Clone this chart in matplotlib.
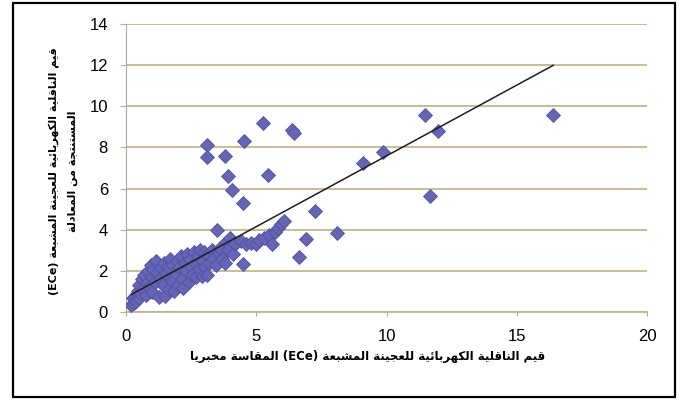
import re
import matplotlib
matplotlib.use('Agg')
import matplotlib.pyplot as plt
import numpy as np
from matplotlib.patches import Rectangle

ece_lab = [0.2, 0.25, 0.3, 0.35, 0.4, 0.45, 0.5, 0.5, 0.55, 0.6, 0.65, 0.7, 0.75, 0.8,
           0.85, 0.9, 0.95, 1.0, 1.0, 1.05, 1.1, 1.15, 1.2, 1.25, 1.3, 1.35, 1.4, 1.45,
           1.5, 1.55, 1.6, 1.65, 1.7, 1.75, 1.8, 1.85, 1.9, 1.95, 2.0, 2.05, 2.1, 2.15,
           2.2, 2.25, 2.3, 2.35, 2.4, 2.45, 2.5, 2.55, 2.6, 2.65, 2.7, 2.75, 2.8, 2.85,
           2.9, 2.95, 3.0, 3.05, 3.1, 3.15, 3.2, 3.3, 3.35, 3.45, 3.5, 3.55, 3.6, 3.7,
           3.8, 3.85, 3.9, 4.0, 4.1, 4.2, 4.4, 4.5, 4.6, 4.8, 5.0, 5.1, 5.3, 5.5, 5.6,
           5.7, 5.85, 5.95, 6.05,
           3.1, 3.1, 3.8, 3.93, 4.06, 4.48, 4.54, 5.25, 5.44, 6.36, 6.45, 6.65, 6.91,
           7.26, 8.1, 9.1, 9.88, 11.48, 11.65, 11.97, 16.4]
ece_eq = [0.35, 0.68, 0.45, 0.8, 0.55, 1.0, 0.7, 1.3, 0.9, 1.6, 1.1, 1.8, 0.85, 1.4,
          2.0, 1.2, 2.3, 1.7, 0.95, 2.1, 1.45, 2.5, 1.9, 0.75, 1.6, 2.2, 1.3, 2.4,
          0.8, 1.9, 2.2, 1.1, 2.6, 1.5, 2.3, 1.0, 1.9, 2.5, 1.3, 2.2, 2.7, 1.6,
          1.15, 2.4, 2.0, 2.8, 1.45, 2.6, 2.2, 1.8, 2.9, 2.4, 1.7, 2.7, 2.1, 3.0,
          1.75, 2.5, 2.9, 2.2, 1.8, 2.75, 2.4, 3.0, 2.6, 2.3, 4.0, 2.85, 3.1, 2.6,
          2.4, 3.4, 3.0, 3.6, 2.8, 3.3, 3.45, 2.35, 3.3, 3.35, 3.3, 3.5, 3.6, 3.75, 3.3,
          3.9, 4.1, 4.3, 4.4,
          8.1, 7.55, 7.6, 6.6, 5.92, 5.32, 8.32, 9.21, 6.68, 8.85, 8.68, 2.69, 3.53,
          4.92, 3.82, 7.22, 7.78, 9.56, 5.62, 8.78, 9.56]

# trend line as drawn in the chart
trend_slope = 0.688
trend_intercept = 0.71

xlabel_ar = 'قيم الناقلية الكهربائية للعجينة المشبعة (ECe) المقاسة مخبريا'
ylabel_ar = ['قيم الناقلية الكهربائية للعجينة المشبعة (ECe)', 'المستنتجة من المعادلة']

# presentation forms: isolated, final, initial, medial
FORMS = {
    'ا': ('\uFE8D', '\uFE8E'), 'ة': ('\uFE93', '\uFE94'),
    'د': ('\uFEA9', '\uFEAA'), 'ر': ('\uFEAD', '\uFEAE'),
    'ب': ('\uFE8F', '\uFE90', '\uFE91', '\uFE92'),
    'ت': ('\uFE95', '\uFE96', '\uFE97', '\uFE98'),
    'ج': ('\uFE9D', '\uFE9E', '\uFE9F', '\uFEA0'),
    'خ': ('\uFEA5', '\uFEA6', '\uFEA7', '\uFEA8'),
    'س': ('\uFEB1', '\uFEB2', '\uFEB3', '\uFEB4'),
    'ش': ('\uFEB5', '\uFEB6', '\uFEB7', '\uFEB8'),
    'ع': ('\uFEC9', '\uFECA', '\uFECB', '\uFECC'),
    'ق': ('\uFED5', '\uFED6', '\uFED7', '\uFED8'),
    'ك': ('\uFED9', '\uFEDA', '\uFEDB', '\uFEDC'),
    'ل': ('\uFEDD', '\uFEDE', '\uFEDF', '\uFEE0'),
    'م': ('\uFEE1', '\uFEE2', '\uFEE3', '\uFEE4'),
    'ن': ('\uFEE5', '\uFEE6', '\uFEE7', '\uFEE8'),
    'ه': ('\uFEE9', '\uFEEA', '\uFEEB', '\uFEEC'),
    'ي': ('\uFEF1', '\uFEF2', '\uFEF3', '\uFEF4'),
    'ئ': ('\uFE89', '\uFE8A', '\uFE8B', '\uFE8C'),
}


def rtl(text):
    out = []
    for i, c in enumerate(text):
        if c not in FORMS:
            out.append(c)
            continue
        prev = text[i - 1] if i > 0 else ''
        nxt = text[i + 1] if i + 1 < len(text) else ''
        jp = prev in FORMS and len(FORMS[prev]) == 4
        jn = len(FORMS[c]) == 4 and nxt in FORMS
        f = FORMS[c]
        if jp and jn:
            out.append(f[3])
        elif jp:
            out.append(f[1])
        elif jn:
            out.append(f[2])
        else:
            out.append(f[0])
    vis = ''.join(out)[::-1]
    return re.sub(r'[A-Za-z()]+', lambda m: m.group(0)[::-1], vis)


plt.rcParams['font.family'] = ['Liberation Sans', 'DejaVu Sans']

fig = plt.figure(figsize=(6.85, 4.03), dpi=100)
ax = fig.add_axes([0.184, 0.2258, 0.7606, 0.7146])

grid_col = '#BDB27C'
x = np.array(ece_lab)
y = np.array(ece_eq)
ax.plot(x, y, linestyle='none', marker='D', markersize=7,
        markerfacecolor='#6464B8', markeredgecolor='#5252A0', markeredgewidth=0.6, zorder=3)
xs = np.array([x.min(), x.max()])
ax.plot(xs, trend_intercept + trend_slope * xs, color='#1E1E1E', lw=1.1, zorder=4)

ax.set_xlim(0, 20)
ax.set_ylim(0, 14)
ax.set_xticks(np.arange(0, 21, 5))
ax.set_yticks(np.arange(0, 15, 2))
ax.yaxis.grid(True, color=grid_col, lw=1.2)
ax.set_axisbelow(True)
for s in ['top', 'right']:
    ax.spines[s].set_visible(False)
ax.spines['left'].set_color('#A8A8A8')
ax.spines['bottom'].set_color(grid_col)
ax.spines['bottom'].set_linewidth(1.2)
ax.tick_params(axis='x', length=3, color='#A8A8A8', pad=9, labelsize=12)
ax.tick_params(axis='y', length=4, color=grid_col, pad=9, labelsize=12)

fig.text(0.537, 0.115, rtl(xlabel_ar), ha='center', va='center', fontsize=8.5,
         fontweight='bold', family=['DejaVu Sans'])
fig.text(0.092, 0.575, '\n'.join(rtl(t) for t in ylabel_ar), ha='center', va='center',
         rotation=90, fontsize=8, fontweight='bold', family=['DejaVu Sans'],
         multialignment='center', linespacing=2.0)

fig.patches.append(Rectangle((0.019, 0.0149), 0.966, 0.978, transform=fig.transFigure,
                             fill=False, edgecolor='black', lw=1.6))

fig.savefig('out.png', dpi=100)
